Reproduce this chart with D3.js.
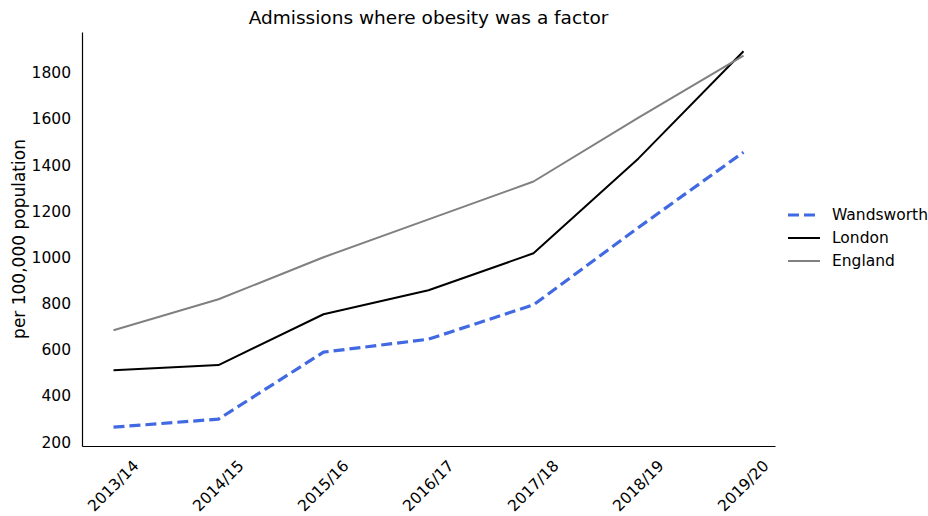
<!DOCTYPE html>
<html>
<head>
<meta charset="utf-8">
<script src="https://cdn.jsdelivr.net/npm/d3@7"></script>
<style>
  body { margin: 0; background: #fff; }
  text { font-family: "DejaVu Sans", sans-serif; fill: #000; }
</style>
</head>
<body>
<div id="chart"></div>
<script>
const years = ["2013/14", "2014/15", "2015/16", "2016/17", "2017/18", "2018/19", "2019/20"];
const wandsworth = [263, 298, 588, 644, 793, 1128, 1454];
const london = [510, 532, 752, 856, 1016, 1427, 1891];
const england = [683, 817, 999, 1163, 1327, 1604, 1872];
const yTicks = [200, 400, 600, 800, 1000, 1200, 1400, 1600, 1800];

const series = [
  {name: "Wandsworth", values: wandsworth, color: "#4169e1", width: 3.2, dash: "11,5"},
  {name: "London", values: london, color: "#000000", width: 2, dash: null},
  {name: "England", values: england, color: "#808080", width: 2, dash: null}
];

const W = 928, H = 516;
const margin = {top: 32, right: 153, bottom: 70, left: 82},
  width = W - margin.left - margin.right,
  height = H - margin.top - margin.bottom;

const svg = d3.select('#chart')
  .append("svg")
    .attr("width", W)
    .attr("height", H);

const g = svg.append("g")
  .attr("transform", `translate(${margin.left},${margin.top})`);

// x: matplotlib-like 5% padding around the index range
const x = d3.scaleLinear()
  .domain([-0.3, years.length - 1 + 0.3])
  .range([0, width]);

const y = d3.scaleLinear()
  .domain([181.5, 1974.5])
  .range([height, 0]);

// axes: only left and bottom spines, no tick marks
const yAxis = g.append("g")
  .call(d3.axisLeft(y).tickValues(yTicks).tickSize(0).tickPadding(11).tickFormat(d3.format("d")));
yAxis.select(".domain").attr("stroke", "#000").attr("stroke-width", 1.2);
yAxis.selectAll("text").style("font-size", "15.5px").attr("dy", "0.35em");

const xAxis = g.append("g")
  .attr("transform", `translate(0, ${height})`)
  .call(d3.axisBottom(x).tickValues(d3.range(years.length)).tickSize(0).tickFormat(""));
xAxis.select(".domain").attr("stroke", "#000").attr("stroke-width", 1.2);

g.selectAll(".xlabel")
  .data(years)
  .enter().append("text")
    .attr("class", "xlabel")
    .attr("text-anchor", "middle")
    .attr("dominant-baseline", "central")
    .style("font-size", "15.5px")
    .attr("transform", (d, i) => `translate(${x(i)},${height + 40}) rotate(-45)`)
    .text(d => d);

// lines
const line = d3.line()
  .x((d, i) => x(i))
  .y(d => y(d));

series.forEach(function(s) {
  g.append("path")
    .datum(s.values)
    .attr("fill", "none")
    .attr("stroke", s.color)
    .attr("stroke-width", s.width)
    .attr("stroke-dasharray", s.dash)
    .attr("stroke-linejoin", "round")
    .attr("d", line);
});

// title
svg.append("text")
  .attr("x", margin.left + width / 2)
  .attr("y", 24)
  .attr("text-anchor", "middle")
  .style("font-size", "18.5px")
  .text("Admissions where obesity was a factor");

// y label
svg.append("text")
  .attr("transform", `translate(19,${margin.top + height / 2}) rotate(-90)`)
  .attr("text-anchor", "middle")
  .attr("dominant-baseline", "central")
  .style("font-size", "17px")
  .text("per 100,000 population");

// legend
const legend = svg.append("g")
  .attr("transform", "translate(788,215)");
series.forEach(function(s, i) {
  const row = legend.append("g").attr("transform", `translate(0,${i * 23})`);
  row.append("line")
    .attr("x1", 0).attr("x2", 32)
    .attr("stroke", s.color)
    .attr("stroke-width", s.width)
    .attr("stroke-dasharray", s.dash);
  row.append("text")
    .attr("x", 44)
    .attr("dominant-baseline", "central")
    .style("font-size", "15.5px")
    .text(s.name);
});
</script>
</body>
</html>
